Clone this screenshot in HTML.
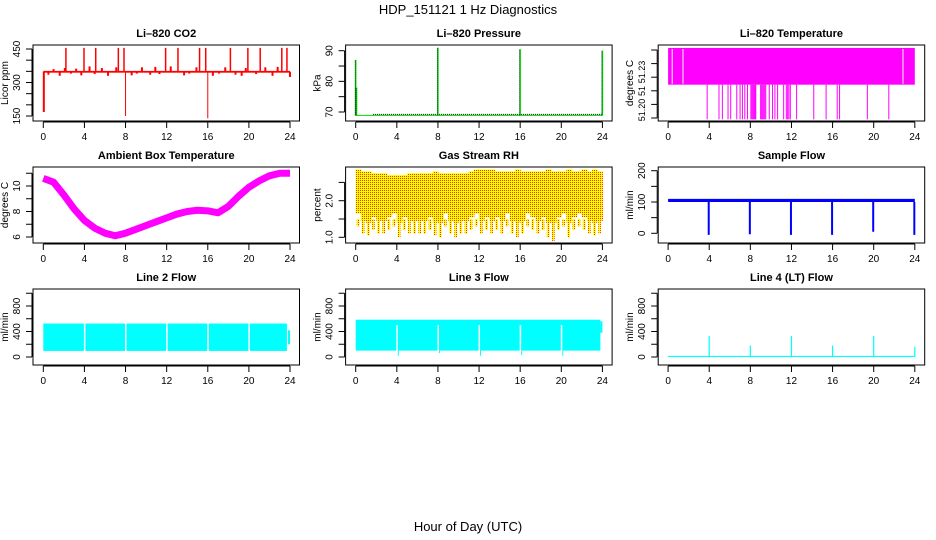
<!DOCTYPE html>
<html><head><meta charset="utf-8"><style>
html,body{margin:0;padding:0;background:#fff;}
svg{display:block;font-family:"Liberation Sans",Arial,sans-serif;}
</style></head><body>
<svg id="chart" width="936" height="540" viewBox="0 0 936 540" xmlns="http://www.w3.org/2000/svg">
<defs>
<pattern id="rhpat" width="2" height="2" patternUnits="userSpaceOnUse"><rect width="2" height="2" fill="#ffff00"/><rect width="1" height="1" fill="#ff3000"/></pattern>
</defs>
<text x="468" y="14" font-size="13" text-anchor="middle">HDP_151121  1 Hz Diagnostics</text>
<text x="468" y="531" font-size="13" text-anchor="middle">Hour of Day (UTC)</text>
<g id="plots"></g>
</svg>
<script>
// ---- data ----
const xTicks = [0,4,8,12,16,20,24];
const co2Base = 348;
const co2UpHours = [2.2,3.96,5.1,7.3,7.85,11.9,13.1,15.2,15.8,18.2,19.9,21.1,23.2,23.7];
const co2DownHours = [0.05,8.0,16.0];
const co2DownValues = [168,150,140];
const co2JitterHours = [0.4,0.9,1.5,2.0,2.6,3.1,3.6,4.4,4.9,5.6,6.2,7.0,8.5,9.0,9.5,10.3,10.8,11.2,12.3,13.6,14.1,14.8,16.4,17.0,17.6,18.6,19.2,19.6,20.6,21.5,22.2,22.7,23.9];
const co2JitterValues = [335,360,330,365,340,362,332,372,338,365,330,368,332,340,368,335,370,338,372,332,340,368,330,340,368,335,330,365,338,368,330,370,325];
const presBase = 68.9;
const presSpikeHours = [0.0,0.08,8.0,16.0,24.0];
const presSpikeValues = [87,78,91,90.5,90];
const tempLevels = [51.199,51.2245,51.2515];
const tempGapHours = [0.35,1.4,22.8];
const tempDropHours = [3.8,4.95,5.28,5.83,6.09,6.68,7.0,7.23,7.46,7.72,8.05,8.15,8.25,8.35,8.45,8.53,9.0,9.1,9.2,9.3,9.4,9.5,9.84,10.16,10.39,10.65,11.24,11.5,11.63,11.75,11.89,12.5,14.17,15.37,16.45,16.68,19.38,21.47];
const ambHours = [0,1,2,3,4,5,6,7,8,9,10,11,12,13,14,15,16,17,18,19,20,21,22,23,24];
const ambValues = [10.6,10.3,9.3,8.2,7.3,6.7,6.3,6.1,6.3,6.6,6.9,7.2,7.5,7.8,8.0,8.1,8.05,7.9,8.4,9.2,9.9,10.4,10.8,11.0,11.0];
const rhHours = [0,0.5,1,1.5,2,2.5,3,3.5,4,4.5,5,5.5,6,6.5,7,7.5,8,8.5,9,9.5,10,10.5,11,11.5,12,12.5,13,13.5,14,14.5,15,15.5,16,16.5,17,17.5,18,18.5,19,19.5,20,20.5,21,21.5,22,22.5,23,23.5];
const rhHigh = [2.85,2.8,2.8,2.75,2.75,2.75,2.7,2.7,2.7,2.7,2.75,2.75,2.75,2.75,2.75,2.8,2.75,2.75,2.75,2.75,2.75,2.75,2.8,2.85,2.85,2.85,2.85,2.8,2.8,2.8,2.8,2.85,2.8,2.8,2.8,2.8,2.8,2.85,2.8,2.8,2.8,2.85,2.8,2.8,2.85,2.8,2.85,2.8];
const rhLow = [1.3,1.1,1.05,1.2,1.1,1.1,1.2,1.3,1.0,1.2,1.1,1.1,1.1,1.1,1.2,1.05,1.0,1.3,1.1,1.0,1.1,1.1,1.2,1.3,1.1,1.2,1.1,1.2,1.1,1.3,1.1,1.0,1.1,1.3,1.2,1.1,1.2,1.0,0.9,1.2,1.3,1.0,1.2,1.3,1.2,1.1,1.05,1.1];
const sampleBase = [100,110];
const sampleDropHours = [4,8,12,16,20,24];
const sampleDropValues = [-5,-3,-5,-5,5,-5];
const l2Band = [95,525];
const l2GapHours = [3.95,7.95,11.95,15.95,19.95];
const l2End = 23.7;
const l3Band = [100,585];
const l3GapHours = [3.95,7.95,11.95,15.95,19.95];
const l3DipValues = [20,60,20,30,20];
const l4Base = [0,18];
const l4SpikeHours = [4,8,12,16,20,24];
const l4SpikeValues = [330,180,330,180,330,160];

// ---- layout ----
const NS = "http://www.w3.org/2000/svg";
const G = document.getElementById("plots");
function el(tag, attrs, parent){const e=document.createElementNS(NS,tag);for(const k in attrs)e.setAttribute(k,attrs[k]);(parent||G).appendChild(e);return e;}

function panel(ci, ri, name, title, ylab, v0, p0, v1, p1, ticks, labels, labelPos, labelSize){
  const left = 33 + ci*312.6, top = 45 + ri*122, w = 266.5, h = 76;
  const g = el("g", {});
  
  
  const xOf = hr => 43.3 + ci*312.4 + hr*10.28;
  const yOf = v => p0 + (v - v0) * (p1 - p0) / (v1 - v0);
  const plot = el("g", {}, g);
  
  
  const box = el("rect", {x:left, y:top, width:w, height:h, fill:"none", stroke:"#000", "stroke-width":1}, g);
  
  
  const t = el("text", {x:left+w/2, y:top-8, "font-size":11, "font-weight":"bold", "text-anchor":"middle"}, g);
  
  
  t.textContent = title;
  const xa = el("g", {}, g);
  
  
  el("line", {x1:xOf(0), x2:xOf(24), y1:top+h+1, y2:top+h+1, stroke:"#000"}, xa);
  xTicks.forEach(v=>{
    el("line", {x1:xOf(v), x2:xOf(v), y1:top+h+1, y2:top+h+7, stroke:"#000"}, xa);
    const tl = el("text", {x:xOf(v), y:top+h+19, "font-size":10, "text-anchor":"middle"}, xa);
    
    
    tl.textContent = v;
  });
  const ya = el("g", {}, g);
  
  
  el("line", {x1:left-1, x2:left-1, y1:yOf(ticks[0]), y2:yOf(ticks[ticks.length-1]), stroke:"#000"}, ya);
  ticks.forEach(v=>el("line", {x1:left-7, x2:left-1, y1:yOf(v), y2:yOf(v), stroke:"#000"}, ya));
  labels.forEach((s,i)=>{
    const yy = labelPos ? labelPos[i] : yOf(parseFloat(s));
    const tl = el("text", {x:left-13, y:yy, "font-size":labelSize||10, "text-anchor":"middle", transform:`rotate(-90 ${left-13} ${yy})`}, ya);
    
    
    tl.textContent = s;
  });
  const yt = el("text", {x:left-25, y:top+h/2, "font-size":10, "text-anchor":"middle", transform:`rotate(-90 ${left-25} ${top+h/2})`}, g);
  
  
  yt.textContent = ylab;
  return {xOf, yOf, plot};
}
function vline(p, x, y1, y2, col, sw){return el("line", {x1:x, x2:x, y1:y1, y2:y2, stroke:col, "stroke-width":sw||1}, p);}
function rectV(p, x1, x2, y1, y2, fill){return el("rect", {x:Math.min(x1,x2), y:Math.min(y1,y2), width:Math.abs(x2-x1), height:Math.abs(y2-y1), fill:fill}, p);}

// CO2
{const P = panel(0,0,"co2","Li\u2013820 CO2","Licor ppm",450,49,150,116,[150,200,250,300,350,400,450],["150","300","450"]);
 rectV(P.plot, P.xOf(0), P.xOf(24), P.yOf(co2Base+4), P.yOf(co2Base-4), "#ff0000");
 co2UpHours.forEach(h=>vline(P.plot, P.xOf(h), P.yOf(co2Base), P.yOf(455), "#ff0000", 1.5));
 co2DownHours.forEach((h,i)=>vline(P.plot, P.xOf(h), P.yOf(co2Base), P.yOf(co2DownValues[i]), "#ff0000", i==0?2:1));
 co2JitterHours.forEach((h,i)=>rectV(P.plot, P.xOf(h), P.xOf(h)+2, P.yOf(co2Base), P.yOf(co2JitterValues[i]), "#ff0000"));}
// Pressure
{const P = panel(1,0,"pressure","Li\u2013820 Pressure","kPa",90,50.7,70,112,[70,75,80,85,90],["70","80","90"]);
 el("line",{x1:P.xOf(0),x2:P.xOf(24),y1:P.yOf(presBase),y2:P.yOf(presBase),stroke:"#00dd00","stroke-width":1},P.plot);
 el("line",{x1:P.xOf(1.7),x2:P.xOf(24),y1:P.yOf(presBase)-1,y2:P.yOf(presBase)-1,stroke:"#000","stroke-width":1,"stroke-dasharray":"1,1"},P.plot);
 presSpikeHours.forEach((h,i)=>{vline(P.plot,P.xOf(h),P.yOf(presBase),P.yOf(presSpikeValues[i]),"#00dd00",1.5);
   vline(P.plot,P.xOf(h)-0.5,P.yOf(presBase),P.yOf(presSpikeValues[i]),"#000",0.8).setAttribute("stroke-dasharray","1,1");});}
// Li-820 temperature
{const P = panel(2,0,"licor-temperature","Li\u2013820 Temperature","degrees C",51.20,118,51.25,50,[51.20,51.21,51.22,51.23,51.24,51.25],["51.20","51","51.23"],[110,91,72],9);
 rectV(P.plot, P.xOf(0), P.xOf(24), P.yOf(tempLevels[2]), P.yOf(tempLevels[1]), "#ff00ff");
 tempGapHours.forEach(h=>rectV(P.plot,P.xOf(h),P.xOf(h)+1,P.yOf(tempLevels[2])+1,P.yOf(tempLevels[1])-1,"#ffffff"));
 tempDropHours.forEach(h=>vline(P.plot,P.xOf(h),P.yOf(tempLevels[1]),P.yOf(tempLevels[0]),"#ff00ff",1));}
// Ambient
{const P = panel(0,1,"ambient-temperature","Ambient Box Temperature","degrees C",10,186,6,237,[6,7,8,9,10,11],["6","8","10"]);
 el("polyline",{points:ambHours.map((h,i)=>P.xOf(h)+","+P.yOf(ambValues[i])).join(" "),fill:"none",stroke:"#ff00ff","stroke-width":7,"stroke-linejoin":"round"},P.plot);}
// RH
{const P = panel(1,1,"gas-stream-rh","Gas Stream RH","percent",2.0,200.7,1.0,237.3,[1.0,1.5,2.0,2.5],["1.0","2.0"]);
 rhHours.forEach((h,i)=>{rectV(P.plot,P.xOf(h),P.xOf(h+0.5)+0.5,P.yOf(rhHigh[i]),P.yOf(2.7),"url(#rhpat)");
   rectV(P.plot,P.xOf(h),P.xOf(h+0.5)+0.5,P.yOf(2.7),P.yOf(Math.max(rhLow[i]+0.35,1.4)),"url(#rhpat)");
   rectV(P.plot,P.xOf(h+0.1),P.xOf(h+0.35),P.yOf(1.5),P.yOf(rhLow[i]),"url(#rhpat)");});}
// Sample flow
{const P = panel(2,1,"sample-flow","Sample Flow","ml/min",0,233.3,200,170.7,[0,50,100,150,200],["0","100","200"]);
 rectV(P.plot,P.xOf(0),P.xOf(24),P.yOf(sampleBase[1]),P.yOf(sampleBase[0]),"#0000ff");
 sampleDropHours.forEach((h,i)=>vline(P.plot,P.xOf(h)-0.5,P.yOf(sampleBase[0]),P.yOf(sampleDropValues[i]),"#0000ff",2));}
// Line 2
{const P = panel(0,2,"line2-flow","Line 2 Flow","ml/min",0,357,800,306,[0,200,400,600,800,1000],["0","400","800"]);
 rectV(P.plot,P.xOf(0),P.xOf(l2End),P.yOf(l2Band[1]),P.yOf(l2Band[0]),"#00ffff");
 l2GapHours.forEach(h=>rectV(P.plot,P.xOf(h),P.xOf(h)+1.5,P.yOf(l2Band[1])-1,P.yOf(l2Band[0])+1,"#ffffff"));
 rectV(P.plot,P.xOf(23.8),P.xOf(24),P.yOf(420),P.yOf(200),"#00ffff");}
// Line 3
{const P = panel(1,2,"line3-flow","Line 3 Flow","ml/min",0,357,800,306,[0,200,400,600,800,1000],["0","400","800"]);
 rectV(P.plot,P.xOf(0),P.xOf(23.8),P.yOf(l3Band[1]),P.yOf(l3Band[0]),"#00ffff");
 l3GapHours.forEach((h,i)=>{rectV(P.plot,P.xOf(h),P.xOf(h)+1.5,P.yOf(500),P.yOf(l3Band[0])+1,"#ffffff");
   vline(P.plot,P.xOf(h)+2,P.yOf(l3Band[0]),P.yOf(l3DipValues[i]),"#00ffff",1);});
 rectV(P.plot,P.xOf(23.8),P.xOf(24),P.yOf(560),P.yOf(380),"#00ffff");}
// Line 4
{const P = panel(2,2,"line4-flow","Line 4 (LT) Flow","ml/min",0,357,800,306,[0,200,400,600,800,1000],["0","400","800"]);
 rectV(P.plot,P.xOf(0),P.xOf(24),P.yOf(l4Base[1]),P.yOf(l4Base[0]),"#00ffff");
 l4SpikeHours.forEach((h,i)=>vline(P.plot,P.xOf(h),P.yOf(0),P.yOf(l4SpikeValues[i]),"#00ffff",1.2));}
</script>
</body></html>
